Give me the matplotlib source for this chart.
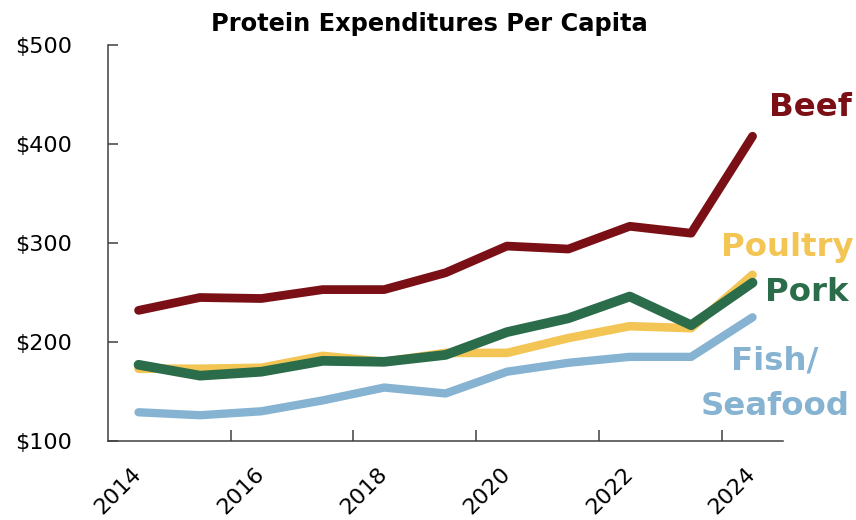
import numpy as np
import matplotlib.pyplot as plt

# per-capita spending by year
years = [2014, 2015, 2016, 2017, 2018, 2019, 2020, 2021, 2022, 2023, 2024]
beef = [232, 245, 244, 253, 253, 270, 297, 294, 317, 310, 408]
poultry = [173, 173, 174, 186, 180, 189, 189, 204, 216, 214, 268]
pork = [177, 166, 170, 181, 180, 187, 210, 224, 246, 217, 260]
fish = [129, 126, 130, 141, 154, 148, 170, 179, 185, 185, 225]

series_names = ['Fish/\nSeafood', 'Poultry', 'Pork', 'Beef']
series_values = [fish, poultry, pork, beef]
series_colors = ['#86B3D1', '#F3C555', '#2B6C4B', '#7A1016']
series_widths = [6.0, 6.2, 7.0, 6.3]
# where the end labels sit (x in category units, y in dollars)
label_pos = [(10.36, 158), (10.57, 296), (10.88, 250), (10.94, 437)]

yticks = [100, 200, 300, 400, 500]

plt.rcParams['font.family'] = 'DejaVu Sans'

fig = plt.figure(figsize=(8.56, 5.2), dpi=100)
ax = fig.add_axes([0.126, 0.152, 0.789, 0.761])

x = np.arange(len(years))
for vals, col, lw in zip(series_values, series_colors, series_widths):
    ax.plot(x, vals, color=col, lw=lw, solid_capstyle='round', solid_joinstyle='round')

for name, col, (lx, ly) in zip(series_names, series_colors, label_pos):
    ax.text(lx, ly, name, color=col, fontsize=23.3, fontweight='bold',
            ha='center', va='center', linespacing=1.6)

ax.set_xlim(-0.5, len(years) - 0.5)
ax.set_ylim(100, 500)
ax.set_yticks(yticks)
ax.set_yticklabels([f'${v}' for v in yticks])

# ticks sit between categories, labels on every other year
ax.set_xticks(np.arange(1.5, len(years) - 1, 2))
ax.set_xticklabels([])
ax.set_xticks(x[::2], minor=True)
ax.set_xticklabels([str(y) for y in years[::2]], minor=True, rotation=45,
                   ha='right', va='center', rotation_mode='anchor')

ax.tick_params(axis='y', direction='in', length=7, width=1.1, colors='#404040',
               labelsize=16, labelcolor='black', pad=26)
ax.tick_params(axis='x', which='major', direction='in', length=8, width=1.1, colors='#404040')
ax.tick_params(axis='x', which='minor', length=0, labelsize=16, labelcolor='black', pad=21.5)

for s in ['top', 'right']:
    ax.spines[s].set_visible(False)
for s in ['left', 'bottom']:
    ax.spines[s].set_color('#404040')
    ax.spines[s].set_linewidth(1.1)

fig.text(0.502, 0.954, 'Protein Expenditures Per Capita', fontsize=17.4,
         fontweight='bold', ha='center', va='center')

fig.savefig('out.png', dpi=100)
